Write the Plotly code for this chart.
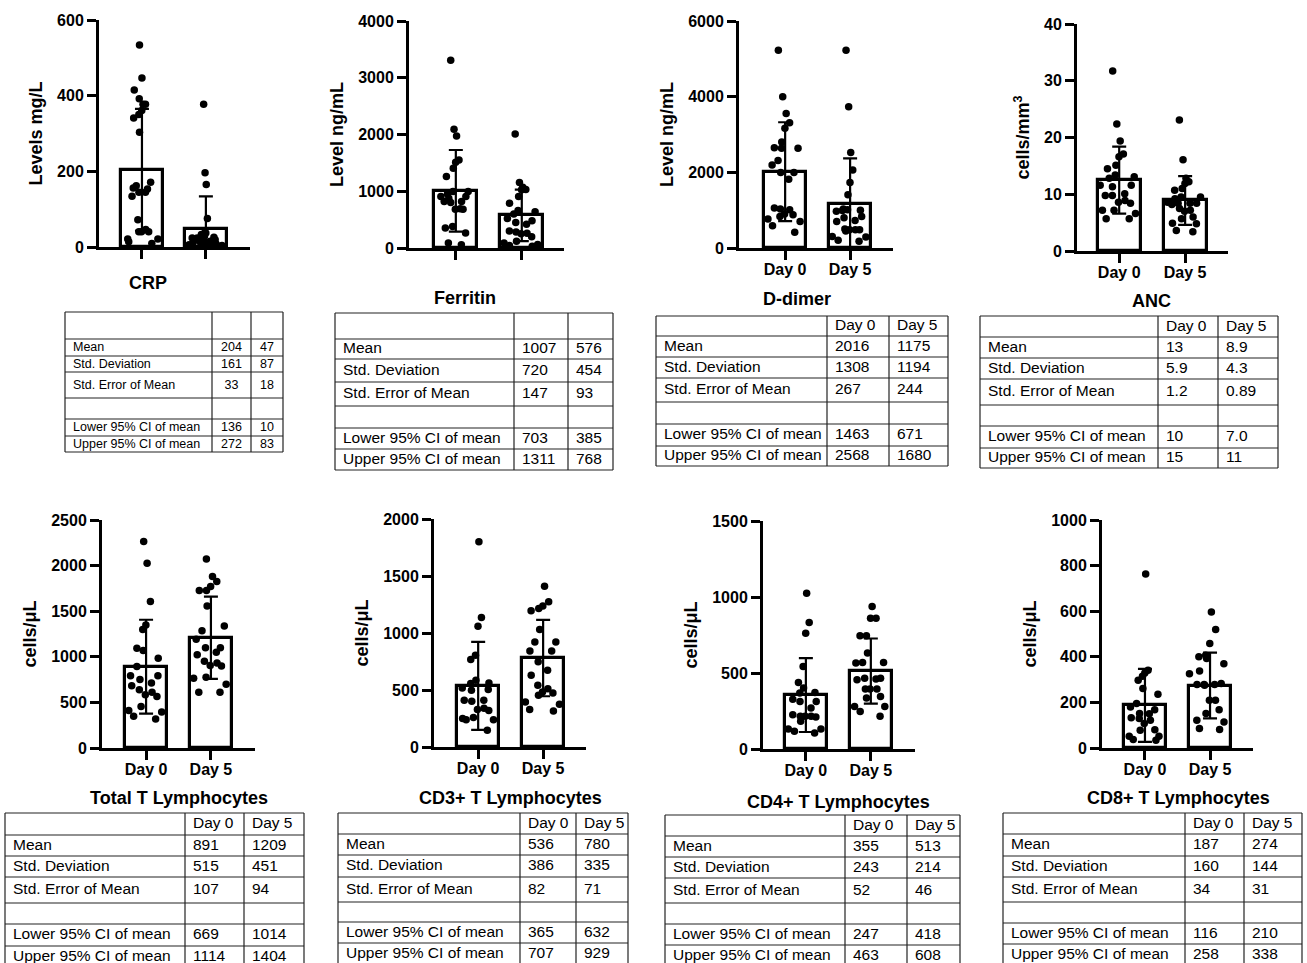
import plotly.graph_objects as go

# ---------------- data ----------------
days = ["Day 0", "Day 5"]
stat_labels = ["Mean", "Std. Deviation", "Std. Error of Mean", "",
               "Lower 95% CI of mean", "Upper 95% CI of mean"]

panel_titles = ["CRP", "Ferritin", "D-dimer", "ANC",
                "Total T Lymphocytes", "CD3+ T Lymphocytes",
                "CD4+ T Lymphocytes", "CD8+ T Lymphocytes"]
y_titles = ["Levels mg/L", "Level ng/mL", "Level ng/mL", "cells/mm<sup>3</sup>",
            "cells/μL", "cells/μL", "cells/μL", "cells/μL"]
y_max = [600, 4000, 6000, 40, 2500, 2000, 1500, 1000]
y_step = [200, 1000, 2000, 10, 500, 500, 500, 200]
show_day_labels = [False, False, True, True, True, True, True, True]

crp_day0 = [534, 447, 415, 392, 377, 377, 361, 350, 341, 303, 162, 153, 171, 156,
            134, 145, 145, 72, 46, 40, 40, 40, 21, 21, 14, 9]
crp_day5 = [377, 196, 165, 75, 37, 28, 33, 37, 15, 10, 6, 15, 12, 19, 24, 24, 8,
            18, 9, 6, 26, 3, 4, 2]
ferritin_day0 = [3309, 2091, 1974, 1511, 1552, 1406, 1259, 996, 908, 908, 878, 996,
                 950, 800, 691, 685, 685, 820, 820, 381, 351, 264, 59, 88]
ferritin_day5 = [2009, 1154, 1072, 1030, 1025, 908, 790, 660, 640, 600, 520, 480,
                 450, 420, 300, 280, 260, 250, 200, 120, 90, 60, 45, 30]
ddimer_day0 = [5227, 3997, 3558, 900, 3312, 3163, 2800, 2650, 2636, 2636, 2310, 2196,
               1994, 1994, 1818, 1054, 1028, 1010, 878, 835, 764, 703, 589, 413]
ddimer_day5 = [5227, 3734, 2521, 2064, 1731, 1406, 1028, 1010, 1000, 990, 970, 835,
               800, 729, 700, 500, 483, 483, 480, 450, 307, 290, 202, 176]
anc_day0 = [31.7, 22.4, 19.4, 17.1, 16.6, 15.1, 14.5, 13.4, 13.1, 12.8, 11.6, 11.3,
            11.6, 9.8, 9.8, 10.1, 8.9, 8.6, 8.4, 7.2, 7.2, 6.6, 5.7, 5.7]
anc_day5 = [23.1, 16.1, 12.8, 12.2, 11.9, 11.0, 10.7, 9.5, 9.5, 9.2, 8.4, 8.2, 8.6,
            8.4, 8.4, 7.5, 7.2, 7.0, 6.0, 5.7, 4.9, 4.8, 3.4, 3.6]
totalt_day0 = [2263, 2026, 1606, 1350, 1300, 1095, 1069, 985, 894, 792, 792, 750,
               712, 682, 639, 610, 584, 566, 456, 412, 394, 347, 318]
totalt_day5 = [2073, 1880, 1825, 1770, 1726, 1726, 1558, 1339, 1285, 1193, 1100,
               1100, 1050, 950, 1022, 900, 931, 905, 777, 766, 700, 610, 610]
cd3_day0 = [1801, 1136, 1060, 805, 767, 586, 562, 556, 518, 504, 498, 410, 410, 401,
            340, 328, 320, 258, 249, 240, 240, 146]
cd3_day5 = [1411, 1274, 1236, 1215, 1195, 1031, 922, 922, 843, 843, 747, 673, 630,
            542, 512, 483, 474, 454, 395, 375, 328, 316]
cd4_day0 = [1025, 832, 762, 543, 438, 401, 372, 368, 328, 313, 313, 269, 225, 215,
            215, 215, 210, 182, 131, 131, 116, 105]
cd4_day5 = [937, 860, 860, 745, 745, 631, 569, 569, 565, 466, 466, 460, 455, 394,
            394, 394, 346, 335, 280, 280, 247, 215]
cd8_day0 = [763, 341, 329, 315, 297, 261, 236, 195, 180, 168, 151, 150, 133, 129,
            122, 107, 80, 78, 51, 51, 37, 34]
cd8_day5 = [597, 520, 458, 400, 407, 392, 370, 338, 326, 283, 278, 278, 278, 275,
            209, 209, 168, 151, 122, 114, 85, 81]

points = [(crp_day0, crp_day5), (ferritin_day0, ferritin_day5),
          (ddimer_day0, ddimer_day5), (anc_day0, anc_day5),
          (totalt_day0, totalt_day5), (cd3_day0, cd3_day5),
          (cd4_day0, cd4_day5), (cd8_day0, cd8_day5)]

bar_means = [[204, 47], [1007, 576], [2016, 1175], [12.5, 8.9],
             [891, 1209], [536, 780], [355, 513], [187, 274]]
bar_sds = [[161, 87], [720, 454], [1308, 1194], [5.9, 4.3],
           [515, 451], [386, 335], [243, 214], [160, 144]]

table_day0 = [["204", "161", "33", "", "136", "272"],
              ["1007", "720", "147", "", "703", "1311"],
              ["2016", "1308", "267", "", "1463", "2568"],
              ["13", "5.9", "1.2", "", "10", "15"],
              ["891", "515", "107", "", "669", "1114"],
              ["536", "386", "82", "", "365", "707"],
              ["355", "243", "52", "", "247", "463"],
              ["187", "160", "34", "", "116", "258"]]
table_day5 = [["47", "87", "18", "", "10", "83"],
              ["576", "454", "93", "", "385", "768"],
              ["1175", "1194", "244", "", "671", "1680"],
              ["8.9", "4.3", "0.89", "", "7.0", "11"],
              ["1209", "451", "94", "", "1014", "1404"],
              ["780", "335", "71", "", "632", "929"],
              ["513", "214", "46", "", "418", "608"],
              ["274", "144", "31", "", "210", "338"]]
table_headers = [["", "", ""], ["", "", ""]] + [["", "Day 0", "Day 5"]] * 6

# ---------------- layout geometry (pixels) ----------------
W, H = 1307, 963


def px_x(p):
    return p / W


def px_y(p):
    return 1 - p / H


# plot areas: left, right, top, bottom (px), x range
plot_geom = [
    (99, 250, 20, 247, -0.672, 1.69),
    (409, 564, 21, 248, -0.71, 1.64),
    (739, 893, 21, 248, -0.71, 1.66),
    (1077, 1228, 24, 251, -0.64, 1.65),
    (102, 255, 520, 748, -0.68, 1.68),
    (434, 586, 519, 747, -0.68, 1.66),
    (763, 915, 521, 749, -0.66, 1.68),
    (1102, 1253, 520, 748, -0.66, 1.66),
]
title_pos = [(148, 283), (465, 298), (797, 299), (1151, 301),
             (179, 798), (510, 798), (838, 802), (1178, 798)]

# tables: left, column splits, right (px); row boundaries (px); font size; number-column centring
table_geom = [
    ([65, 212, 251, 283], [312, 339, 356, 372, 398, 419, 436, 452], 12.5, True),
    ([335, 514, 568, 613], [313, 339, 359, 382, 406, 428, 449, 470], 15.5, False),
    ([656, 827, 889, 948], [316, 336, 357, 378, 402, 424, 446, 466], 15.5, False),
    ([980, 1158, 1218, 1278], [316, 337, 358, 379, 405, 426, 448, 468], 15.5, False),
    ([5, 185, 244, 304], [813, 835, 856, 877, 903, 924, 946, 968], 15.5, False),
    ([338, 520, 576, 628], [813, 834, 855, 877, 902, 922, 943, 964], 15.5, False),
    ([665, 845, 907, 960], [815, 836, 857, 878, 903, 924, 945, 966], 15.5, False),
    ([1003, 1185, 1244, 1302], [813, 834, 856, 877, 902, 923, 944, 965], 15.5, False),
]

FONT = "Liberation Sans, Arial, sans-serif"
BAR_W = 0.65
PAD = 8

fig = go.Figure()
layout_axes = {}
annotations = []


def axis_names(n):
    return ("x" if n == 1 else f"x{n}", "y" if n == 1 else f"y{n}",
            "xaxis" if n == 1 else f"xaxis{n}", "yaxis" if n == 1 else f"yaxis{n}")


for i in range(8):
    n = i + 1
    xa, ya, xkey, ykey = axis_names(n)
    left, right, top, bottom, xmin, xmax = plot_geom[i]

    fig.add_trace(go.Bar(
        x=[0, 1], y=bar_means[i], width=BAR_W,
        marker=dict(color="white", line=dict(color="black", width=3.2)),
        error_y=dict(type="data", array=bar_sds[i], symmetric=True,
                     color="black", thickness=2.2, width=7),
        xaxis=xa, yaxis=ya, showlegend=False, hoverinfo="y"))

    for k in range(2):
        fig.add_trace(go.Box(
            y=points[i][k], x0=k, width=BAR_W, boxpoints="all", jitter=1.0,
            pointpos=0, marker=dict(color="black", size=7.5),
            line=dict(width=0, color="rgba(0,0,0,0)"),
            fillcolor="rgba(0,0,0,0)", whiskerwidth=0,
            xaxis=xa, yaxis=ya, showlegend=False, hoverinfo="y"))

    layout_axes[xkey] = dict(
        domain=[px_x(left), px_x(right)], range=[xmin, xmax], anchor=ya,
        automargin=False,
        showline=True, linewidth=3, linecolor="black",
        ticks="outside", ticklen=9, tickwidth=3, tickcolor="black",
        tickvals=[0, 1], ticktext=days, showticklabels=show_day_labels[i],
        ticklabelstandoff=-4,
        tickfont=dict(family=FONT, size=16, color="black", weight="bold"),
        showgrid=False, zeroline=False, fixedrange=True)
    layout_axes[ykey] = dict(
        domain=[px_y(bottom), px_y(top)], range=[0, y_max[i]], anchor=xa,
        automargin=False,
        showline=True, linewidth=3, linecolor="black",
        ticks="outside", ticklen=9, tickwidth=3, tickcolor="black",
        tick0=0, dtick=y_step[i], tickformat="d",
        tickfont=dict(family=FONT, size=16, color="black", weight="bold"),
        title=dict(text=y_titles[i], standoff=10,
                   font=dict(family=FONT, size=18, color="black", weight="bold")),
        showgrid=False, zeroline=False, fixedrange=True)

    tx, ty = title_pos[i]
    annotations.append(dict(
        text=panel_titles[i], x=px_x(tx), y=px_y(ty), xref="paper", yref="paper",
        xanchor="center", yanchor="middle", showarrow=False,
        font=dict(family=FONT, size=18, color="black", weight="bold")))

# ---------------- statistics tables (drawn on their own axes) ----------------
for i in range(8):
    n = 9 + i
    xa, ya, xkey, ykey = axis_names(n)
    cols, rows, fs, centred = table_geom[i]
    x0, x3 = cols[0], cols[-1]
    y0 = rows[0]
    y_vis = min(rows[-1], H)
    w = x3 - x0
    hgt = y_vis - y0
    cut = y_vis >= H

    # grid lines
    lx, ly = [], []
    for r in rows:
        lx += [0, w, None]
        ly += [r - y0, r - y0, None]
    for c in cols:
        lx += [c - x0, c - x0, None]
        ly += [0, rows[-1] - y0, None]
    fig.add_trace(go.Scatter(x=lx, y=ly, mode="lines",
                             line=dict(color="#222222", width=1.2),
                             xaxis=xa, yaxis=ya, showlegend=False, hoverinfo="skip"))

    # cell text
    all_rows = [table_headers[i]] + [[stat_labels[r], table_day0[i][r], table_day5[i][r]]
                                     for r in range(6)]
    for j in range(3):
        tx_list, ty_list, tt = [], [], []
        for r, row in enumerate(all_rows):
            if row[j] == "":
                continue
            if centred and j > 0:
                tx_list.append((cols[j] + cols[j + 1]) / 2 - x0)
            else:
                tx_list.append(cols[j] - x0 + PAD)
            ty_list.append((rows[r] + rows[r + 1]) / 2 - y0 + 0.5)
            tt.append(row[j])
        fig.add_trace(go.Scatter(
            x=tx_list, y=ty_list, text=tt, mode="text",
            textposition="middle center" if (centred and j > 0) else "middle right",
            textfont=dict(family=FONT, size=fs, color="black"),
            cliponaxis=False, xaxis=xa, yaxis=ya, showlegend=False, hoverinfo="skip"))

    layout_axes[xkey] = dict(domain=[px_x(x0 - 1), px_x(x3 + 1)], range=[-1, w + 1],
                             anchor=ya, visible=False, fixedrange=True, automargin=False)
    layout_axes[ykey] = dict(domain=[px_y(y_vis + (0 if cut else 1)), px_y(y0 - 1)],
                             range=[hgt + (0 if cut else 1), -1],
                             anchor=xa, visible=False, fixedrange=True, automargin=False)

fig.update_layout(
    template="none",
    width=W, height=H, margin=dict(l=0, r=0, t=0, b=0, autoexpand=False),
    paper_bgcolor="white", plot_bgcolor="rgba(0,0,0,0)",
    boxmode="overlay", bargap=0, showlegend=False,
    annotations=annotations, **layout_axes)

fig.write_html("out.html", config={"displayModeBar": False},
               post_script="document.body.style.margin='0';document.body.style.overflow='hidden';")
